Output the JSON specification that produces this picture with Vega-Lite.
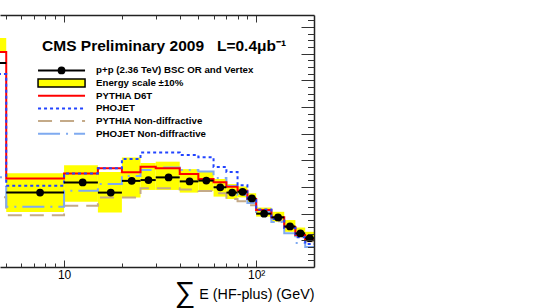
{
  "$schema": "https://vega.github.io/schema/vega-lite/v6.json",
  "width": 314,
  "height": 252,
  "autosize": {"type": "none"},
  "padding": {"left": 0, "top": 15, "right": 224, "bottom": 41},
  "background": "white",
  "config": {"view": {"stroke": null}, "font": "Liberation Sans"},
  "data": {"values": [
    {"lo": 1, "hi": 5, "e": 2.5, "data": 7.65, "es_lo": 8.06, "es_hi": 8.59, "d6t": 8.06, "pho": 7.24, "pnd": 2.62, "phnd": 3.37},
    {"lo": 5, "hi": 10, "e": 7.5, "data": 2.79, "es_lo": 2.06, "es_hi": 3.52, "d6t": 3.32, "pho": 3.05, "pnd": 1.94, "phnd": 2.26},
    {"lo": 10, "hi": 15, "e": 12.5, "data": 3.17, "es_lo": 2.45, "es_hi": 3.82, "d6t": 3.51, "pho": 3.51, "pnd": 2.30, "phnd": 2.86},
    {"lo": 15, "hi": 20, "e": 17.5, "data": 2.79, "es_lo": 2.04, "es_hi": 3.56, "d6t": 3.70, "pho": 3.70, "pnd": 2.61, "phnd": 3.11},
    {"lo": 20, "hi": 25, "e": 22.5, "data": 3.23, "es_lo": 2.61, "es_hi": 4.11, "d6t": 3.55, "pho": 4.05, "pnd": 2.61, "phnd": 3.41},
    {"lo": 25, "hi": 30, "e": 27.5, "data": 3.26, "es_lo": 2.89, "es_hi": 3.90, "d6t": 3.76, "pho": 4.29, "pnd": 2.95, "phnd": 3.64},
    {"lo": 30, "hi": 40, "e": 35, "data": 3.36, "es_lo": 2.89, "es_hi": 3.95, "d6t": 3.70, "pho": 4.29, "pnd": 2.95, "phnd": 3.73},
    {"lo": 40, "hi": 50, "e": 45, "data": 3.21, "es_lo": 2.79, "es_hi": 3.67, "d6t": 3.49, "pho": 4.20, "pnd": 2.91, "phnd": 3.64},
    {"lo": 50, "hi": 60, "e": 55, "data": 3.24, "es_lo": 2.85, "es_hi": 3.57, "d6t": 3.30, "pho": 4.12, "pnd": 2.85, "phnd": 3.58},
    {"lo": 60, "hi": 70, "e": 65, "data": 2.99, "es_lo": 2.64, "es_hi": 3.30, "d6t": 3.18, "pho": 3.75, "pnd": 2.77, "phnd": 3.34},
    {"lo": 70, "hi": 80, "e": 75, "data": 2.79, "es_lo": 2.55, "es_hi": 3.11, "d6t": 3.01, "pho": 3.56, "pnd": 2.55, "phnd": 3.04},
    {"lo": 80, "hi": 90, "e": 85, "data": 2.82, "es_lo": 2.61, "es_hi": 3.02, "d6t": 2.86, "pho": 3.07, "pnd": 2.47, "phnd": 2.70},
    {"lo": 90, "hi": 100, "e": 95, "data": 2.57, "es_lo": 2.36, "es_hi": 2.77, "d6t": 2.55, "pho": 2.51, "pnd": 2.32, "phnd": 2.40},
    {"lo": 100, "hi": 120, "e": 110, "data": 2.00, "es_lo": 1.89, "es_hi": 2.23, "d6t": 2.14, "pho": 2.16, "pnd": 2.02, "phnd": 2.06},
    {"lo": 120, "hi": 140, "e": 130, "data": 1.86, "es_lo": 1.70, "es_hi": 2.07, "d6t": 1.87, "pho": 1.80, "pnd": 1.72, "phnd": 1.69},
    {"lo": 140, "hi": 160, "e": 150, "data": 1.52, "es_lo": 1.32, "es_hi": 1.76, "d6t": 1.50, "pho": 1.46, "pnd": 1.46, "phnd": 1.27},
    {"lo": 160, "hi": 180, "e": 170, "data": 1.26, "es_lo": 1.12, "es_hi": 1.48, "d6t": 1.20, "pho": 1.12, "pnd": 1.16, "phnd": 0.90},
    {"lo": 180, "hi": 200, "e": 190, "data": 1.08, "es_lo": 0.95, "es_hi": 1.32, "d6t": 1.01, "pho": 0.86, "pnd": 0.97, "phnd": 0.75}
  ]},
  "resolve": {"scale": {"y": "independent"}, "axis": {"x": "independent", "y": "independent"}},
  "layer": [
    {
      "mark": {"type": "rect", "color": "#ffff00", "clip": true},
      "encoding": {
        "x": {"field": "lo", "type": "quantitative", "scale": {"type": "log", "domain": [4.64, 200], "nice": false},
          "axis": {"orient": "bottom", "values": [10, 100], "tickSize": -7, "tickWidth": 1, "tickColor": "#333333", "domain": true, "domainColor": "#222222", "domainWidth": 1.5, "grid": false, "labelExpr": "datum.value == 100 ? '10²' : '10'", "labelFont": "Liberation Sans", "labelFontSize": 12, "labelColor": "#000000", "labelPadding": 9, "labelFlush": false, "labelOverlap": false, "title": "E (HF-plus) (GeV)", "titleFont": "Liberation Sans", "titleFontSize": 14.3, "titleFontWeight": "normal", "titleColor": "#000000", "titleAnchor": "end", "titleAlign": "right", "titleBaseline": "middle", "titleX": 314, "titleY": 27, "zindex": 1}},
        "x2": {"field": "hi"},
        "y": {"field": "es_lo", "type": "quantitative", "scale": {"domain": [0, 9.45], "nice": false, "zero": false},
          "axis": {"orient": "right", "values": [1, 2, 3, 4, 5, 6, 7, 8, 9], "tickSize": -13, "tickWidth": 1, "tickColor": "#333333", "domain": true, "domainColor": "#222222", "domainWidth": 1.5, "labels": false, "title": null, "grid": false, "zindex": 1}},
        "y2": {"field": "es_hi"}
      }
    },
    {
      "transform": [{"fold": ["lo", "hi"], "as": ["edge", "xe"]}],
      "mark": {"type": "line", "color": "#c4aa88", "strokeWidth": 2, "strokeDash": [14, 8], "clip": true},
      "encoding": {
        "x": {"field": "xe", "type": "quantitative", "scale": {"type": "log", "domain": [4.64, 200], "nice": false},
          "axis": {"orient": "bottom", "values": [5, 6, 7, 8, 9, 20, 30, 40, 50, 60, 70, 80, 90], "tickSize": -4, "tickWidth": 1, "tickColor": "#333333", "domain": false, "labels": false, "title": null, "grid": false, "zindex": 1}},
        "y": {"field": "pnd", "type": "quantitative", "scale": {"domain": [0, 9.45], "nice": false, "zero": false},
          "axis": {"orient": "right", "values": [0.25, 0.5, 0.75, 1.25, 1.5, 1.75, 2.25, 2.5, 2.75, 3.25, 3.5, 3.75, 4.25, 4.5, 4.75, 5.25, 5.5, 5.75, 6.25, 6.5, 6.75, 7.25, 7.5, 7.75, 8.25, 8.5, 8.75, 9.25], "tickSize": -6.5, "tickWidth": 1, "tickColor": "#333333", "domain": false, "labels": false, "title": null, "grid": false, "zindex": 1}},
        "order": [{"field": "xe", "type": "quantitative"}, {"field": "edge", "type": "nominal"}]
      }
    },
    {
      "transform": [{"fold": ["lo", "hi"], "as": ["edge", "xe"]}],
      "mark": {"type": "line", "color": "#7faaf0", "strokeWidth": 2, "strokeDash": [22, 6, 2, 6], "clip": true},
      "encoding": {
        "x": {"field": "xe", "type": "quantitative", "scale": {"type": "log", "domain": [4.64, 200], "nice": false},
          "axis": {"orient": "top", "values": [10, 100], "tickSize": -7, "tickWidth": 1, "tickColor": "#333333", "domain": true, "domainColor": "#222222", "domainWidth": 1.5, "labels": false, "title": null, "grid": false, "zindex": 1}},
        "y": {"field": "phnd", "type": "quantitative", "scale": {"domain": [0, 9.45], "nice": false, "zero": false}, "axis": null},
        "order": [{"field": "xe", "type": "quantitative"}, {"field": "edge", "type": "nominal"}]
      }
    },
    {
      "transform": [{"fold": ["lo", "hi"], "as": ["edge", "xe"]}],
      "mark": {"type": "line", "color": "#ff0000", "strokeWidth": 2, "clip": true},
      "encoding": {
        "x": {"field": "xe", "type": "quantitative", "scale": {"type": "log", "domain": [4.64, 200], "nice": false},
          "axis": {"orient": "top", "values": [5, 6, 7, 8, 9, 20, 30, 40, 50, 60, 70, 80, 90], "tickSize": -4, "tickWidth": 1, "tickColor": "#333333", "domain": false, "labels": false, "title": null, "grid": false, "zindex": 1}},
        "y": {"field": "d6t", "type": "quantitative", "scale": {"domain": [0, 9.45], "nice": false, "zero": false}, "axis": null},
        "order": [{"field": "xe", "type": "quantitative"}, {"field": "edge", "type": "nominal"}]
      }
    },
    {
      "transform": [{"fold": ["lo", "hi"], "as": ["edge", "xe"]}],
      "mark": {"type": "line", "color": "#2244ff", "strokeWidth": 2, "strokeDash": [3, 3], "clip": true},
      "encoding": {
        "x": {"field": "xe", "type": "quantitative", "scale": {"type": "log", "domain": [4.64, 200], "nice": false}, "axis": null},
        "y": {"field": "pho", "type": "quantitative", "scale": {"domain": [0, 9.45], "nice": false, "zero": false}, "axis": null},
        "order": [{"field": "xe", "type": "quantitative"}, {"field": "edge", "type": "nominal"}]
      }
    },
    {
      "mark": {"type": "rule", "color": "#000000", "strokeWidth": 2, "clip": true},
      "encoding": {
        "x": {"field": "lo", "type": "quantitative", "scale": {"type": "log", "domain": [4.64, 200], "nice": false}, "axis": null},
        "x2": {"field": "hi"},
        "y": {"field": "data", "type": "quantitative", "scale": {"domain": [0, 9.45], "nice": false, "zero": false}, "axis": null}
      }
    },
    {
      "mark": {"type": "point", "filled": true, "color": "#000000", "opacity": 1, "size": 60, "clip": true},
      "encoding": {
        "x": {"field": "e", "type": "quantitative", "scale": {"type": "log", "domain": [4.64, 200], "nice": false}, "axis": null},
        "y": {"field": "data", "type": "quantitative", "scale": {"domain": [0, 9.45], "nice": false, "zero": false}, "axis": null}
      }
    },
    {
      "data": {"values": [
        {"label": "p+p (2.36 TeV) BSC OR and Vertex", "row": 0},
        {"label": "Energy scale ±10%", "row": 1},
        {"label": "PYTHIA D6T", "row": 2},
        {"label": "PHOJET", "row": 3},
        {"label": "PYTHIA Non-diffractive", "row": 4},
        {"label": "PHOJET Non-diffractive", "row": 5}
      ]},
      "encoding": {
        "y": {"field": "row", "type": "quantitative", "scale": {"domain": [-3.977, 15.114], "reverse": true, "nice": false, "zero": false}, "axis": null}
      },
      "layer": [
        {
          "transform": [{"filter": "datum.label != 'Energy scale ±10%'"}],
          "mark": {"type": "rule", "strokeWidth": 2},
          "encoding": {
            "x": {"datum": 7.32, "type": "quantitative", "scale": {"type": "log", "domain": [4.64, 200], "nice": false}, "axis": null},
            "x2": {"datum": 12.86},
            "color": {"field": "label", "type": "nominal", "scale": {"domain": ["p+p (2.36 TeV) BSC OR and Vertex", "Energy scale ±10%", "PYTHIA D6T", "PHOJET", "PYTHIA Non-diffractive", "PHOJET Non-diffractive"], "range": ["#000000", "#000000", "#ff0000", "#2244ff", "#c4aa88", "#7faaf0"]}, "legend": null},
            "strokeDash": {"field": "label", "type": "nominal", "scale": {"domain": ["p+p (2.36 TeV) BSC OR and Vertex", "Energy scale ±10%", "PYTHIA D6T", "PHOJET", "PYTHIA Non-diffractive", "PHOJET Non-diffractive"], "range": [[1, 0], [1, 0], [1, 0], [3, 3], [14, 8], [22, 6, 2, 6]]}, "legend": null}
          }
        },
        {
          "transform": [{"filter": "datum.label == 'Energy scale ±10%'"}],
          "mark": {"type": "bar", "orient": "horizontal", "size": 8, "fill": "#ffff00", "stroke": "#000000", "strokeWidth": 1.5},
          "encoding": {
            "x": {"datum": 7.32, "type": "quantitative", "scale": {"type": "log", "domain": [4.64, 200], "nice": false}, "axis": null},
            "x2": {"datum": 12.86}
          }
        },
        {
          "transform": [{"filter": "datum.label == 'p+p (2.36 TeV) BSC OR and Vertex'"}],
          "mark": {"type": "point", "filled": true, "color": "#000000", "opacity": 1, "size": 60},
          "encoding": {
            "x": {"datum": 9.7, "type": "quantitative", "scale": {"type": "log", "domain": [4.64, 200], "nice": false}, "axis": null}
          }
        },
        {
          "mark": {"type": "text", "align": "left", "baseline": "middle", "fontSize": 9.7, "fontWeight": "bold", "font": "Liberation Sans", "color": "#000000"},
          "encoding": {
            "x": {"datum": 14.68, "type": "quantitative", "scale": {"type": "log", "domain": [4.64, 200], "nice": false}, "axis": null},
            "text": {"field": "label"}
          }
        }
      ]
    },
    {
      "data": {"values": [{"t": "CMS Preliminary 2009\u00a0\u00a0\u00a0L=0.4μb⁻¹"}]},
      "mark": {"type": "text", "align": "left", "baseline": "alphabetic", "fontSize": 15.5, "fontWeight": "bold", "font": "Liberation Sans", "color": "#000000"},
      "encoding": {
        "x": {"datum": 7.68, "type": "quantitative", "scale": {"type": "log", "domain": [4.64, 200], "nice": false}, "axis": null},
        "y": {"datum": 8.11, "type": "quantitative", "scale": {"domain": [0, 9.45], "nice": false, "zero": false}, "axis": null},
        "text": {"field": "t"}
      }
    },
    {
      "data": {"values": [{"t": "∑"}]},
      "mark": {"type": "text", "align": "center", "baseline": "middle", "fontSize": 29, "font": "Liberation Sans", "color": "#000000"},
      "encoding": {
        "x": {"datum": 42.7, "type": "quantitative", "scale": {"type": "log", "domain": [4.64, 200], "nice": false}, "axis": null},
        "y": {"datum": -0.975, "type": "quantitative", "scale": {"domain": [0, 9.45], "nice": false, "zero": false}, "axis": null},
        "text": {"field": "t"}
      }
    }
  ]
}
